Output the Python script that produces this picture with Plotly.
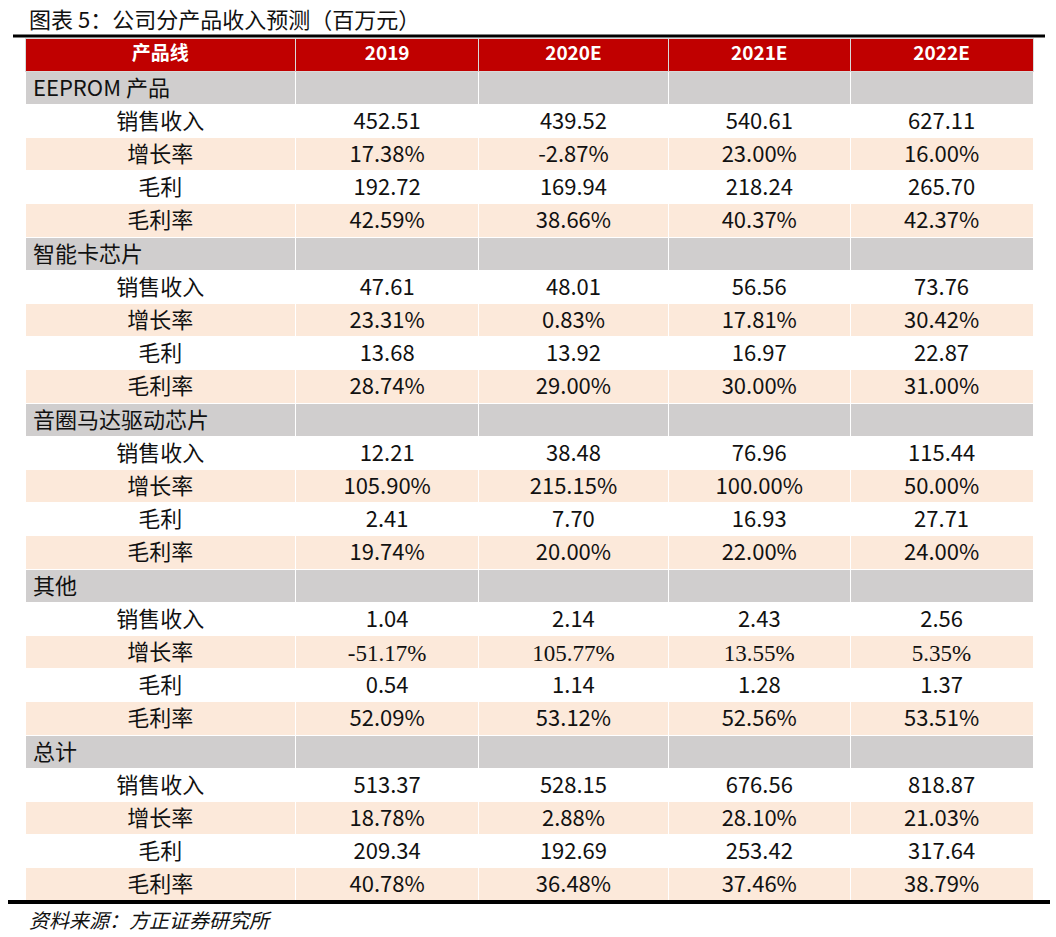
import plotly.graph_objects as go

title = "图表 5：公司分产品收入预测（百万元）"
source = "资料来源：方正证券研究所"
header_labels = ["产品线", "2019", "2020E", "2021E", "2022E"]
segments = ["EEPROM 产品", "智能卡芯片", "音圈马达驱动芯片", "其他", "总计"]
metrics = ["销售收入", "增长率", "毛利", "毛利率"]

eeprom_revenue = [452.51, 439.52, 540.61, 627.11]
eeprom_growth = [17.38, -2.87, 23.00, 16.00]
eeprom_profit = [192.72, 169.94, 218.24, 265.70]
eeprom_margin = [42.59, 38.66, 40.37, 42.37]

card_revenue = [47.61, 48.01, 56.56, 73.76]
card_growth = [23.31, 0.83, 17.81, 30.42]
card_profit = [13.68, 13.92, 16.97, 22.87]
card_margin = [28.74, 29.00, 30.00, 31.00]

vcm_revenue = [12.21, 38.48, 76.96, 115.44]
vcm_growth = [105.90, 215.15, 100.00, 50.00]
vcm_profit = [2.41, 7.70, 16.93, 27.71]
vcm_margin = [19.74, 20.00, 22.00, 24.00]

other_revenue = [1.04, 2.14, 2.43, 2.56]
other_growth = [-51.17, 105.77, 13.55, 5.35]
other_profit = [0.54, 1.14, 1.28, 1.37]
other_margin = [52.09, 53.12, 52.56, 53.51]

total_revenue = [513.37, 528.15, 676.56, 818.87]
total_growth = [18.78, 2.88, 28.10, 21.03]
total_profit = [209.34, 192.69, 253.42, 317.64]
total_margin = [40.78, 36.48, 37.46, 38.79]

groups = [
    (eeprom_revenue, eeprom_growth, eeprom_profit, eeprom_margin),
    (card_revenue, card_growth, card_profit, card_margin),
    (vcm_revenue, vcm_growth, vcm_profit, vcm_margin),
    (other_revenue, other_growth, other_profit, other_margin),
    (total_revenue, total_growth, total_profit, total_margin),
]

W, H = 1056, 937
RED = "#C00000"
GRAY = "#D0CECE"
PEACH = "#FCE9DA"
WHITE = "#FFFFFF"
CLEAR = "rgba(0,0,0,0)"
CJK = "Noto Sans CJK SC"
SERIF = "Liberation Serif"
INK = "#111111"

ncol = 5
cols = [[] for _ in range(ncol)]      # main table (centered)
fills = [[] for _ in range(ncol)]
seg_col = []                          # overlay: left-aligned segment names
serif_cols = [[] for _ in range(ncol - 1)]  # overlay: serif-font cells

for seg, data in zip(segments, groups):
    seg_col.append(seg)
    for c in range(ncol):
        cols[c].append("")
        fills[c].append(GRAY)
    for c in range(ncol - 1):
        serif_cols[c].append("")
    for mi, (m, vals) in enumerate(zip(metrics, data)):
        seg_col.append("")
        pct = mi in (1, 3)
        fill = PEACH if pct else WHITE
        serif = (seg == "其他" and mi == 1)
        cols[0].append(m)
        fills[0].append(fill)
        for c in range(1, ncol):
            v = vals[c - 1]
            txt = f"{v:.2f}%" if pct else f"{v:.2f}"
            cols[c].append("" if serif else txt)
            serif_cols[c - 1].append(txt if serif else "")
            fills[c].append(fill)


def px(x):
    return x / W


def py(y):
    return 1 - y / H


nrows = len(cols[0])
top, bottom = 38, 901
row_h = (bottom - top) / (nrows + 1)
widths = [271, 183, 190, 182, 183]
x_left, x_right = 25, 1033
col0_right = x_left + (x_right - x_left) * widths[0] / sum(widths)
ydom = [py(bottom), py(top)]

fig = go.Figure()
fig.add_trace(go.Table(
    domain=dict(x=[px(x_left), px(x_right)], y=ydom),
    columnwidth=widths,
    header=dict(
        values=header_labels,
        fill_color=RED,
        line=dict(color="#D9D9D9", width=1),
        font=dict(family=CJK, size=19, color="white", weight="bold"),
        align="center",
        height=row_h,
    ),
    cells=dict(
        values=cols,
        fill_color=fills,
        line=dict(color=WHITE, width=1),
        font=dict(family=CJK, size=22, color=INK),
        align="center",
        height=row_h,
    ),
))
# segment-name overlay on the first column (left aligned)
fig.add_trace(go.Table(
    domain=dict(x=[px(x_left), px(col0_right)], y=ydom),
    header=dict(values=[""], fill_color=CLEAR,
                line=dict(color=CLEAR, width=0), height=row_h),
    cells=dict(
        values=[seg_col],
        fill_color=CLEAR,
        line=dict(color=CLEAR, width=0),
        font=dict(family=CJK, size=22, color=INK),
        align="left",
        height=row_h,
    ),
))
# serif-font overlay on the numeric columns
fig.add_trace(go.Table(
    domain=dict(x=[px(col0_right), px(x_right)], y=ydom),
    columnwidth=widths[1:],
    header=dict(values=[""] * (ncol - 1), fill_color=CLEAR,
                line=dict(color=CLEAR, width=0), height=row_h),
    cells=dict(
        values=serif_cols,
        fill_color=CLEAR,
        line=dict(color=CLEAR, width=0),
        font=dict(family=SERIF, size=23, color=INK),
        align="center",
        height=row_h,
    ),
))

fig.add_shape(type="line", xref="paper", yref="paper",
              x0=px(13), x1=px(1045), y0=py(36), y1=py(36),
              line=dict(color="black", width=3))
fig.add_shape(type="line", xref="paper", yref="paper",
              x0=px(8), x1=px(1050), y0=py(902), y1=py(902),
              line=dict(color="black", width=4))

fig.add_annotation(x=px(27), y=py(18), xref="paper", yref="paper",
                   text=title, showarrow=False, xanchor="left", yanchor="middle",
                   font=dict(family=CJK, size=22, color=INK))
fig.add_annotation(x=px(27), y=py(919), xref="paper", yref="paper",
                   text=f"<i>{source}</i>", showarrow=False, xanchor="left", yanchor="middle",
                   font=dict(family=CJK, size=20, color=INK))

fig.update_layout(width=W, height=H, margin=dict(l=0, r=0, t=0, b=0),
                  paper_bgcolor="white", plot_bgcolor="white")

# remove the default page margin so the figure sits at the window's top-left
fig.write_html("out.html", config={"displayModeBar": False},
               post_script="document.body.style.margin='0';")
